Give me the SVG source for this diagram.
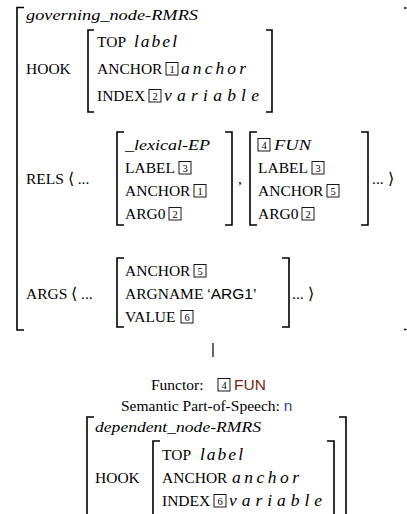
<svg xmlns="http://www.w3.org/2000/svg" width="407" height="514" viewBox="0 0 407 514">
<style>
.t{font-family:"Liberation Serif","Times New Roman",serif;font-size:15.5px;fill:#000}
.i{font-style:italic}
.m{font-family:"Liberation Serif","Times New Roman",serif;font-size:17.5px;font-style:italic;fill:#000}
.s{font-family:"Liberation Sans",Arial,sans-serif}
.br{fill:none;stroke:#000;stroke-width:1.6}
.bx{fill:none;stroke:#000;stroke-width:0.9}
.bn{font-family:"Liberation Serif",serif;font-size:10.5px;fill:#000;text-anchor:middle}
.ln{stroke:#000;stroke-width:1.2}
</style>
<defs>
<g id="b1"><rect class="bx" x="0" y="-11.5" width="12" height="12.5"/><text class="bn" x="6" y="-1.5">1</text></g>
<g id="b2"><rect class="bx" x="0" y="-11.5" width="12" height="12.5"/><text class="bn" x="6" y="-1.5">2</text></g>
<g id="b3"><rect class="bx" x="0" y="-11.5" width="12" height="12.5"/><text class="bn" x="6" y="-1.5">3</text></g>
<g id="b4"><rect class="bx" x="0" y="-11.5" width="12" height="12.5"/><text class="bn" x="6" y="-1.5">4</text></g>
<g id="b5"><rect class="bx" x="0" y="-11.5" width="12" height="12.5"/><text class="bn" x="6" y="-1.5">5</text></g>
<g id="b6"><rect class="bx" x="0" y="-11.5" width="12" height="12.5"/><text class="bn" x="6" y="-1.5">6</text></g>
</defs>

<g id="governing">
<path class="br" d="M24,7.5 H17 V330 H24"/>
<path class="br" d="M404,8 H406.5 M404,329.5 H406.5"/>
<text class="t i" x="26" y="19.5" textLength="172" lengthAdjust="spacingAndGlyphs">governing_node-RMRS</text>
<text class="t" x="26" y="74">HOOK</text>
<path class="br" d="M94,30 H88 V112 H94"/>
<path class="br" d="M266,30 H272 V112 H266"/>
<text class="t" x="97" y="47">TOP</text><text class="m" x="134" y="47" textLength="43" lengthAdjust="spacing">label</text>
<text class="t" x="97" y="74">ANCHOR</text><use href="#b1" x="166" y="74"/><text class="m" x="181" y="74" textLength="65" lengthAdjust="spacing">anchor</text>
<text class="t" x="97" y="101">INDEX</text><use href="#b2" x="149" y="101"/><text class="m" x="164" y="101" textLength="95" lengthAdjust="spacing">variable</text>

<text class="t" x="26" y="184">RELS ⟨ ...</text>
<path class="br" d="M124,132 H117 V225 H124"/>
<path class="br" d="M225,132 H232 V225 H225"/>
<text class="t i" x="125" y="150" textLength="85" lengthAdjust="spacingAndGlyphs">_lexical-EP</text>
<text class="t" x="125" y="173">LABEL</text><use href="#b3" x="179" y="173"/>
<text class="t" x="125" y="196">ANCHOR</text><use href="#b1" x="194" y="196"/>
<text class="t" x="125" y="219">ARG0</text><use href="#b2" x="169" y="219"/>
<text class="t" x="238" y="184">,</text>
<path class="br" d="M257,132 H250 V225 H257"/>
<path class="br" d="M361,132 H368 V225 H361"/>
<use href="#b4" x="258" y="150"/><text class="t i" x="274" y="150" textLength="37" lengthAdjust="spacingAndGlyphs">FUN</text>
<text class="t" x="258" y="173">LABEL</text><use href="#b3" x="312" y="173"/>
<text class="t" x="258" y="196">ANCHOR</text><use href="#b5" x="327" y="196"/>
<text class="t" x="258" y="219">ARG0</text><use href="#b2" x="302" y="219"/>
<text class="t" x="372" y="184">... ⟩</text>

<text class="t" x="26" y="299">ARGS ⟨ ...</text>
<path class="br" d="M124,258 H117 V327 H124"/>
<path class="br" d="M282,258 H289 V327 H282"/>
<text class="t" x="125" y="276">ANCHOR</text><use href="#b5" x="194" y="276"/>
<text class="t" x="125" y="299">ARGNAME <tspan class="s">‘ARG1’</tspan></text>
<text class="t" x="125" y="322">VALUE</text><use href="#b6" x="181" y="322"/>
<text class="t" x="292" y="299">... ⟩</text>
</g>

<g id="edges">
<line class="ln" x1="213" y1="343" x2="213" y2="357"/>
</g>

<g id="functor">
<text class="t" x="151" y="390">Functor:</text><use href="#b4" x="218" y="390"/>
<text class="t s" x="234" y="390" style="fill:#7a1f0f">FUN</text>
<text class="t" x="121" y="411">Semantic Part-of-Speech: <tspan class="s" style="fill:#3b3b9b">n</tspan></text>
</g>

<g id="dependent">
<path class="br" d="M94,417 H87 V514"/>
<path class="br" d="M339,417 H346 V514"/>
<text class="t i" x="95" y="432" textLength="166" lengthAdjust="spacingAndGlyphs">dependent_node-RMRS</text>
<text class="t" x="95" y="483">HOOK</text>
<path class="br" d="M160,441 H153 V514"/>
<path class="br" d="M327,441 H334 V514"/>
<text class="t" x="162" y="460">TOP</text><text class="m" x="200" y="460" textLength="43" lengthAdjust="spacing">label</text>
<text class="t" x="162" y="483">ANCHOR</text><text class="m" x="232" y="483" textLength="67" lengthAdjust="spacing">anchor</text>
<text class="t" x="162" y="506">INDEX</text><use href="#b6" x="214" y="506"/><text class="m" x="229" y="506" textLength="93" lengthAdjust="spacing">variable</text>
</g>
</svg>
